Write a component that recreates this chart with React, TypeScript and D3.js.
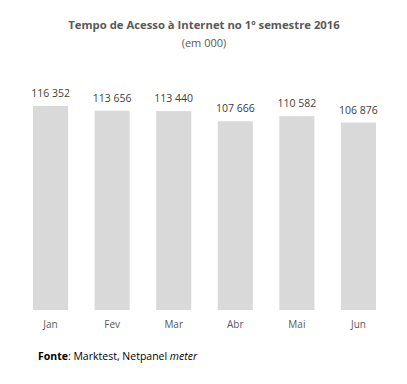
import React from "react";
import * as d3 from "d3";

const months = ["Jan", "Fev", "Mar", "Abr", "Mai", "Jun"];
const values = [116352, 113656, 113440, 107666, 110582, 106876];
const titleText = "Tempo de Acesso à Internet no 1º semestre 2016";
const subtitleText = "(em 000)";

const W = 407;
const H = 384;
const FONT = "'Open Sans', 'Noto Sans', sans-serif";

export default function App() {
  const x = d3.scaleBand<string>().domain(months).range([33, 376]).paddingInner(0.43).paddingOuter(0);
  const y = d3.scaleLinear().domain([0, 116352]).range([310, 106]);
  const fmt = (v: number) => d3.format(",")(v).replace(/,/g, " ");
  return (
    <svg width={W} height={H} style={{ position: "absolute", left: 0, top: 0, background: "#fff" }} fontFamily={FONT}>
      <rect x={0} y={0} width={W} height={H} fill="#fff" />
      <text x={204} y={29} textAnchor="middle" fontSize={11.3} fontWeight="bold" fill="#595959">{titleText}</text>
      <text x={204} y={47} textAnchor="middle" fontSize={11} fill="#595959">{subtitleText}</text>
      {months.map((m, i) => (
        <g key={m}>
          <rect x={x(m)} y={y(values[i])} width={x.bandwidth()} height={y(0) - y(values[i])} fill="#d9d9d9" />
          <text x={(x(m) as number) + x.bandwidth() / 2} y={y(values[i]) - 9} textAnchor="middle" fontSize={10.5} fill="#404040">{fmt(values[i])}</text>
          <text x={(x(m) as number) + x.bandwidth() / 2} y={328} textAnchor="middle" fontSize={10} fill="#595959">{m}</text>
        </g>
      ))}
      <text x={38} y={360} fontSize={10.5} fill="#000">
        <tspan fontWeight="bold">Fonte</tspan>
        <tspan>: Marktest, Netpanel </tspan>
        <tspan fontStyle="italic">meter</tspan>
      </text>
    </svg>
  );
}
